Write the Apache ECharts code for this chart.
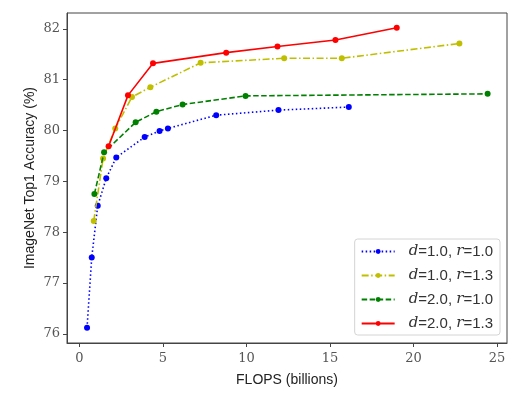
<!DOCTYPE html>
<html>
<head>
<meta charset="utf-8">
<script src="https://cdn.jsdelivr.net/npm/echarts@6/dist/echarts.min.js"></script>
<style>html,body{margin:0;padding:0;background:#fff}#c{width:529px;height:396px}</style>
</head>
<body>
<div id="c"></div>
<script>
// Data
const seriesNames = ['d=1.0, r=1.0', 'd=1.0, r=1.3', 'd=2.0, r=1.0', 'd=2.0, r=1.3'];
const legendD = ['1.0', '1.0', '2.0', '2.0'];
const legendR = ['1.0', '1.3', '1.0', '1.3'];
const blueX = [0.46, 0.74, 1.10, 1.61, 2.21, 3.91, 4.80, 5.30, 8.19, 11.92, 16.13];
const blueY = [76.12, 77.50, 78.52, 79.06, 79.47, 79.87, 79.99, 80.04, 80.30, 80.40, 80.46];
const yellowX = [0.86, 1.42, 2.15, 3.15, 4.25, 7.26, 12.26, 15.71, 22.75];
const yellowY = [78.22, 79.45, 80.04, 80.66, 80.85, 81.33, 81.42, 81.42, 81.71];
const greenX = [0.90, 1.48, 3.37, 4.61, 6.18, 9.95, 24.44];
const greenY = [78.75, 79.57, 80.16, 80.37, 80.51, 80.68, 80.72];
const redX = [1.75, 2.91, 4.41, 8.79, 11.86, 15.33, 19.00];
const redY = [79.69, 80.69, 81.32, 81.53, 81.65, 81.78, 82.02];
const xTicks = [0, 5, 10, 15, 20, 25];
const yTicks = [76, 77, 78, 79, 80, 81, 82];

const zip = (xs, ys) => xs.map((x, i) => [x, ys[i]]);
const colors = ['#0000ff', '#bfbf00', '#008000', '#ff0000'];
const dashes = [[1.5, 2.5], [7, 2.5, 1.5, 2.5], [5.5, 2.5], 'solid'];
const datas = [zip(blueX, blueY), zip(yellowX, yellowY), zip(greenX, greenY), zip(redX, redY)];

const chart = echarts.init(document.getElementById('c'), null, {renderer: 'canvas'});
const serifFont = '"DejaVu Serif", "Liberation Serif", serif';
const sansFont = '"Liberation Sans", Arial, sans-serif';

chart.setOption({
  animation: false,
  grid: {left: 67, top: 13, right: 22, bottom: 53, show: true, borderColor: '#444', borderWidth: 1},
  xAxis: {
    type: 'value', min: -0.74, max: 25.6,
    name: 'FLOPS (billions)', nameLocation: 'middle', nameGap: 30, nameMoveOverlap: false,
    nameTextStyle: {fontFamily: sansFont, fontSize: 14, color: '#222'},
    axisLine: {show: true, onZero: false, lineStyle: {color: '#444'}},
    axisTick: {show: true, inside: false, length: 4, lineStyle: {color: '#444'}, customValues: xTicks},
    axisLabel: {fontFamily: serifFont, fontSize: 13, color: '#555', margin: 9, customValues: xTicks,
      formatter: v => String(Math.round(v))},
    splitLine: {show: false}
  },
  yAxis: {
    type: 'value', min: 75.82, max: 82.31,
    name: 'ImageNet Top1 Accuracy (%)', nameLocation: 'middle', nameGap: 30, nameRotate: 90,
    nameMoveOverlap: false,
    nameTextStyle: {fontFamily: sansFont, fontSize: 14, color: '#222'},
    axisLine: {show: true, onZero: false, lineStyle: {color: '#444'}},
    axisTick: {show: true, inside: false, length: 4, lineStyle: {color: '#444'}, customValues: yTicks},
    axisLabel: {fontFamily: serifFont, fontSize: 13, color: '#555', margin: 7, customValues: yTicks,
      formatter: v => String(Math.round(v))},
    splitLine: {show: false}
  },
  legend: {
    right: 29, bottom: 61, orient: 'vertical',
    backgroundColor: '#fff', borderColor: '#d4d4d4', borderWidth: 1, borderRadius: 3,
    padding: [5, 7, 4, 6], itemGap: 9, itemWidth: 33, itemHeight: 6,
    data: seriesNames,
    formatter: name => {
      const i = seriesNames.indexOf(name);
      return '{i|d}{n|=' + legendD[i] + ', }{i|r}{n|=' + legendR[i] + '}';
    },
    textStyle: {
      padding: [0, 0, 0, 9],
      rich: {
        i: {fontFamily: serifFont, fontStyle: 'italic', fontSize: 15, color: '#333'},
        n: {fontFamily: sansFont, fontSize: 15, color: '#333'}
      }
    }
  },
  series: datas.map((d, i) => ({
    name: seriesNames[i], type: 'line', data: d,
    symbol: 'circle', symbolSize: 6, showSymbol: true,
    lineStyle: {color: colors[i], width: 1.6, type: dashes[i]},
    itemStyle: {color: colors[i]},
    z: 2 + i
  }))
});
</script>
</body>
</html>
